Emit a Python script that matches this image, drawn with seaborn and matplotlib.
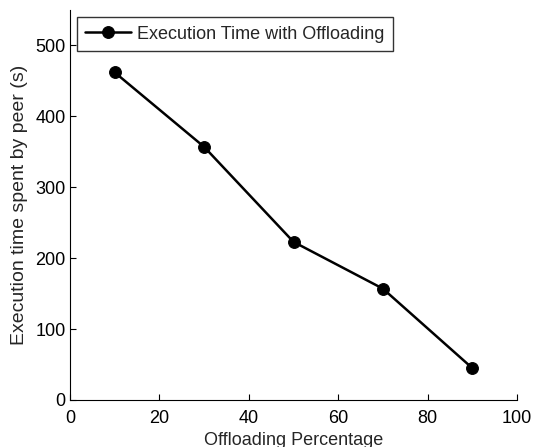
import matplotlib
matplotlib.use("Agg")
import matplotlib.pyplot as plt
import pandas as pd
import seaborn as sns

offload_pct = [10, 30, 50, 70, 90]
exec_time = [462, 357, 223, 157, 45]
series_name = "Execution Time with Offloading"

df = pd.DataFrame({"Offloading Percentage": offload_pct,
                   "Execution time spent by peer (s)": exec_time,
                   "Series": series_name})

sns.set_style("ticks")
plt.rcParams['font.family'] = ['Liberation Sans', 'DejaVu Sans']

fig = plt.figure(figsize=(5.34, 4.47), dpi=100)
# axes box in pixels: left 70, right 517, top 10, bottom 400
ax = fig.add_axes([70 / 534, 47 / 447, 447 / 534, 390 / 447])

sns.lineplot(data=df, x="Offloading Percentage", y="Execution time spent by peer (s)",
             hue="Series", palette=["black"], marker="o", markersize=8.5,
             markeredgecolor="black", linewidth=1.8, ax=ax)

ax.set_xlim(0, 100)
ax.set_ylim(0, 550)
ax.set_xticks([0, 20, 40, 60, 80, 100])
ax.set_yticks([0, 100, 200, 300, 400, 500])
ax.tick_params(direction="in", length=4, labelsize=13, colors="black")
ax.tick_params(axis="x", pad=7.5)
ax.tick_params(axis="y", pad=3)
ax.set_xlabel("Offloading Percentage", fontsize=13)
ax.set_ylabel("Execution time spent by peer (s)", fontsize=14)
ax.xaxis.set_label_coords(0.5, -0.081)
ax.yaxis.set_label_coords(-0.095, 0.5)
sns.despine(ax=ax)
for s in ("left", "bottom"):
    ax.spines[s].set_color("black")
    ax.spines[s].set_linewidth(0.8)

leg = ax.legend(loc="upper left", bbox_to_anchor=(0.0157, 0.981), frameon=True,
                fancybox=False, edgecolor="black", fontsize=13,
                handlelength=2.55, borderpad=0.45, handletextpad=0.33,
                borderaxespad=0)
leg.get_frame().set_linewidth(1.0)

plt.savefig("out.png", dpi=100)
